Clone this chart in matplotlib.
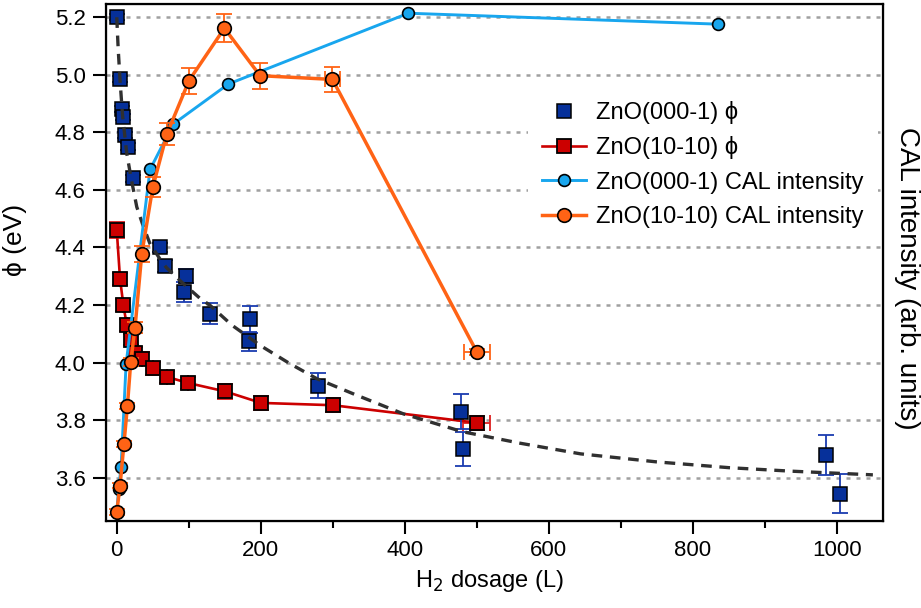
import matplotlib
matplotlib.use("Agg")
import matplotlib.pyplot as plt
from matplotlib.lines import Line2D

plt.rcParams['font.family'] = ['Liberation Sans', 'DejaVu Sans']

# ---------------- data ----------------
# ZnO(000-1) work function (blue squares)
polar_x = [0, 4.6, 7.4, 9.2, 11.5, 16, 22, 60, 67, 96, 93.5, 129.6, 185, 183.7, 280, 478, 480.5, 984.7, 1004.6]
polar_phi = [5.20, 4.985, 4.88, 4.854, 4.79, 4.75, 4.64, 4.40, 4.335, 4.30, 4.245, 4.17, 4.15, 4.074, 3.92, 3.83, 3.70, 3.68, 3.545]
polar_err = [0.01, 0.01, 0.01, 0.01, 0.01, 0.012, 0.012, 0.015, 0.02, 0.025, 0.035, 0.037, 0.046, 0.034, 0.043, 0.06, 0.06, 0.07, 0.068]

# fitted curve through ZnO(000-1) phi (dashed)
fit_x = [0, 2, 4.6, 8, 13.9, 20, 27.8, 36, 46, 60, 69, 90, 115.7, 129.6, 160, 199, 240, 278, 330, 398, 480, 560, 644, 750, 850, 935, 1050]
fit_phi = [5.20, 5.09, 4.98, 4.86, 4.727, 4.64, 4.541, 4.48, 4.414, 4.36, 4.33, 4.28, 4.223, 4.199, 4.13, 4.06, 3.997, 3.944, 3.89, 3.822, 3.76, 3.72, 3.683, 3.655, 3.635, 3.623, 3.61]

# ZnO(10-10) work function (red squares)
nonpolar_x = [0, 4.6, 9.2, 13.9, 19.4, 25.4, 34.7, 50, 70.3, 99.5, 150.4, 200.4, 300, 500]
nonpolar_phi = [4.46, 4.29, 4.20, 4.13, 4.08, 4.033, 4.014, 3.98, 3.95, 3.929, 3.90, 3.86, 3.852, 3.791]
nonpolar_err = [0.028, 0.022, 0.022, 0.02, 0.02, 0.02, 0.022, 0.022, 0.022, 0.022, 0.025, 0.025, 0.025, 0.025]
nonpolar_xerr = [0, 0, 0, 0, 0, 0, 0, 0, 0, 0, 0, 0, 0, 19]

# ZnO(000-1) CAL intensity (light blue circles)
cal_polar_x = [0, 2.5, 6, 13, 46.2, 78.6, 155, 405, 835]
cal_polar = [3.48, 3.56, 3.637, 3.996, 4.671, 4.829, 4.968, 5.214, 5.176]

# ZnO(10-10) CAL intensity (orange circles)
cal_nonpolar_x = [0, 4.6, 10, 14.8, 19.4, 25.4, 34.7, 50, 69.4, 100.4, 149.5, 199, 299.5, 500]
cal_nonpolar = [3.48, 3.573, 3.718, 3.849, 4.002, 4.122, 4.377, 4.609, 4.793, 4.98, 5.162, 4.997, 4.984, 4.037]
cal_nonpolar_err = [0.01, 0.01, 0.01, 0.01, 0.015, 0.02, 0.028, 0.035, 0.038, 0.045, 0.048, 0.045, 0.042, 0.012]
cal_nonpolar_xerr = [0, 0, 0, 0, 0, 0, 0, 0, 0, 0, 0, 0, 10, 18]

yticks = [3.6, 3.8, 4.0, 4.2, 4.4, 4.6, 4.8, 5.0, 5.2]
xticks = [0, 200, 400, 600, 800, 1000]
xminor = [100, 300, 500, 700, 900]

labels = ["ZnO(000-1) \u03d5", "ZnO(10-10) \u03d5", "ZnO(000-1) CAL intensity", "ZnO(10-10) CAL intensity"]

# ---------------- colours ----------------
c_navy = '#06309a'
c_navy_err = '#1a3cb0'
c_red = '#cc0000'
c_red_err = '#dd2020'
c_lblue = '#18a6ee'
c_orange = '#ff6315'

fig = plt.figure(figsize=(9.21, 6.08), dpi=100)
ax = fig.add_axes([0.1148, 0.1423, 0.9587 - 0.1148, 0.9934 - 0.1423])
xlim = (-15.3, 1064)
ylim = (3.448, 5.246)

for v in yticks:
    ax.axhline(v, color='#a0a0a0', lw=1.8, ls=(0, (1.6, 2.4)), zorder=0.5)

# red series
ax.errorbar(nonpolar_x, nonpolar_phi, yerr=nonpolar_err, xerr=nonpolar_xerr, fmt='none',
            ecolor=c_red_err, elinewidth=1.3, capsize=5.5, capthick=1.3, zorder=3)
ax.plot(nonpolar_x, nonpolar_phi, color=c_red, lw=1.9, marker='s', ms=10.5,
        mfc=c_red, mec='black', mew=1.3, zorder=3.5)

# blue squares
ax.errorbar(polar_x, polar_phi, yerr=polar_err, fmt='none',
            ecolor=c_navy_err, elinewidth=1.3, capsize=5.5, capthick=1.3, zorder=4)
ax.plot(polar_x, polar_phi, ls='none', marker='s', ms=10.5,
        mfc=c_navy, mec='black', mew=1.1, zorder=4.5)

# fit
ax.plot(fit_x, fit_phi, color='#303030', lw=2.4, ls=(0, (3.2, 2.3)), zorder=6)

ax.set_xlim(*xlim)
ax.set_ylim(*ylim)
ax.set_xticks(xticks)
ax.set_xticks(xminor, minor=True)
ax.set_yticks(yticks)
ax.set_yticklabels([f"{v:.1f}" for v in yticks])
ax.tick_params(axis='both', which='major', length=9.4, width=1.5, labelsize=16, pad=5)
ax.tick_params(axis='x', which='minor', length=4.7, width=1.5)
ax.tick_params(axis='x', which='major', pad=4)
for s in ax.spines.values():
    s.set_linewidth(1.6)

ax.set_xlabel("H$_2$ dosage (L)", fontsize=17)
ax.set_ylabel("\u03d5 (eV)", fontsize=19)
ax.yaxis.set_label_coords(-0.101, 0.544)
ax.xaxis.set_label_coords(0.494, -0.09)

# right axis for CAL intensity
ax2 = ax.twinx()
ax2.set_ylim(*ylim)
ax2.set_yticks([])
ax2.set_ylabel("CAL intensity (arb. units)", fontsize=20, rotation=270, va='center')
ax2.yaxis.set_label_coords(1.031, 0.47)

ax2.plot(cal_polar_x, cal_polar, color=c_lblue, lw=2.1, marker='o', ms=8.5,
         mfc=c_lblue, mec='black', mew=1.2, zorder=2)
ax2.errorbar(cal_nonpolar_x, cal_nonpolar, yerr=cal_nonpolar_err, xerr=cal_nonpolar_xerr, fmt='none',
             ecolor=c_orange, elinewidth=1.3, capsize=6, capthick=1.3, zorder=3)
ax2.plot(cal_nonpolar_x, cal_nonpolar, color=c_orange, lw=2.5, marker='o', ms=9.8,
         mfc=c_orange, mec='black', mew=1.2, zorder=3.5)
ax2.set_xlim(*xlim)

handles = [
    Line2D([], [], ls='none', marker='s', ms=10.5, mfc=c_navy, mec='black', mew=1.1),
    Line2D([], [], color=c_red, lw=1.9, marker='s', ms=10.5, mfc=c_red, mec='black', mew=1.3),
    Line2D([], [], color=c_lblue, lw=2.1, marker='o', ms=8.5, mfc=c_lblue, mec='black', mew=1.2),
    Line2D([], [], color=c_orange, lw=2.5, marker='o', ms=9.8, mfc=c_orange, mec='black', mew=1.2),
]
leg = ax2.legend(handles, labels, loc='upper left', bbox_to_anchor=(0.543, 0.84),
                 fontsize=17, frameon=True, facecolor='white', edgecolor='none', framealpha=1,
                 fancybox=False, handlelength=1.85, handletextpad=0.45, labelspacing=0.52,
                 borderpad=0.6, borderaxespad=0)
leg.set_zorder(10)

fig.savefig("out.png", dpi=100)
